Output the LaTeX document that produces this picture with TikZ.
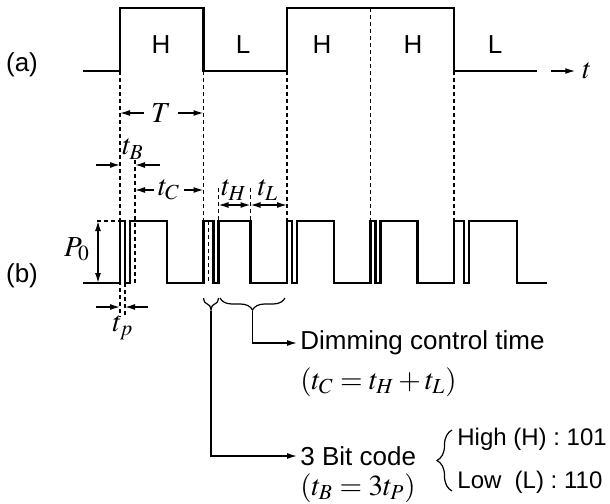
\documentclass[tikz,border=0pt]{standalone}
\usepackage{mathptmx}
\usepackage[no-math]{fontspec}
\setmainfont{Liberation Sans}
\usetikzlibrary{arrows.meta,decorations.pathreplacing}

\begin{document}
\begin{tikzpicture}[x=0.5pt,y=-0.5pt,>={Latex[length=5pt,width=3pt]},
 font=\fontsize{13}{16}\selectfont,
 wave/.style={line width=1.45pt},
 guide/.style={line width=0.6pt,dash pattern=on 2pt off 1.5pt},
 dim/.style={line width=0.7pt},
 mth/.style={font=\fontsize{14.5}{17}\selectfont},
 brc/.style={decorate,decoration={brace,amplitude=6pt},line width=0.6pt},
 txt/.style={anchor=west,inner sep=1.5pt}]
\useasboundingbox (0,0) rectangle (610,503);
\node (la) at (22,65) {(a)};
\node (lb) at (22,276) {(b)};
\node (s1) at (161,45) {H};
\node (s2) at (243,45) {L};
\node (s3) at (322,45) {H};
\node (s4) at (413,45) {H};
\node (s5) at (495,45) {L};
% waveform (a)
\draw[wave] (83,71) -- (120,71) -- (120,8) -- (203.5,8) -- (203.5,71) -- (287,71) -- (287,8) -- (454,8) -- (454,71) -- (537,71);
\node[mth] (tlab) at (587,71) {$t$};
\coordinate (tst) at (551,71);
\draw[->,dim] (tst) -- (tlab);
% waveform (b)
\draw[wave] (83,283) -- (120,283) -- (120,221) -- (125,221) -- (125,283) -- (130,283) -- (130,221) -- (167,221) -- (167,283) -- (203.5,283)
 -- (203.5,221) -- (213.5,221) -- (213.5,283) -- (218.5,283) -- (218.5,221) -- (250.5,221) -- (250.5,283) -- (287,283)
 -- (287,221) -- (292,221) -- (292,283) -- (297,283) -- (297,221) -- (334,221) -- (334,283) -- (370.5,283)
 -- (370.5,221) -- (375.5,221) -- (375.5,283) -- (380.5,283) -- (380.5,221) -- (417.5,221) -- (417.5,283) -- (454,283)
 -- (454,221) -- (464,221) -- (464,283) -- (469,283) -- (469,221) -- (517,221) -- (517,283) -- (547,283);
% guides
\draw[guide] (120,71) -- (120,317);
\draw[guide] (125,283) -- (125,317);
\draw[guide] (135,160) -- (135,283);
\draw[guide] (203.5,71) -- (203.5,221);
\draw[guide] (208.5,221) -- (208.5,283);
\draw[guide] (218.5,188) -- (218.5,221);
\draw[guide] (250.5,188) -- (250.5,221);
\draw[guide] (287,71) -- (287,221);
\draw[guide] (370.5,8) -- (370.5,221);
\draw[guide] (454,71) -- (454,221);
\draw[guide] (97,221) -- (120,221);
% T
\node[mth] (Tlab) at (161,113) {$T$};
\coordinate (Ta) at (120,113);
\coordinate (Tb) at (203.5,113);
\draw[->,dim] (Tlab) -- (Ta);
\draw[->,dim] (Tlab) -- (Tb);
% t_B
\node[mth] (tBlab) at (133,149) {$t_B$};
\coordinate (tB1) at (96,165);
\coordinate (tB2) at (120,165);
\coordinate (tB3) at (160,165);
\coordinate (tB4) at (135,165);
\draw[->,dim] (tB1) -- (tB2);
\draw[->,dim] (tB3) -- (tB4);
% t_C
\node[mth,inner sep=2pt] (tClab) at (169,190) {$t_C$};
\coordinate (tCa) at (135,190);
\coordinate (tCb) at (203.5,190);
\draw[->,dim] (tClab) -- (tCa);
\draw[->,dim] (tClab) -- (tCb);
% t_H, t_L
\node[mth] (tHlab) at (234,190) {$t_H$};
\node[mth] (tLlab) at (268,190) {$t_L$};
\coordinate (tHa) at (218.5,205);
\coordinate (tHb) at (250.5,205);
\coordinate (tLb) at (287,205);
\draw[<->,dim] (tHa) -- (tHb);
\draw[<->,dim] (tHb) -- (tLb);
% P_0
\node[mth,inner sep=1pt] (P0lab) at (77,249) {$P_0$};
\coordinate (Pa) at (98,221);
\coordinate (Pb) at (98,283);
\draw[<->,dim] (Pa) -- (Pb);
% t_p
\node[mth,inner sep=1pt] (tplab) at (123,328) {$t_p$};
\coordinate (tp1) at (96,307);
\coordinate (tp2) at (120,307);
\coordinate (tp3) at (148,307);
\coordinate (tp4) at (125,307);
\draw[->,dim] (tp1) -- (tp2);
\draw[->,dim] (tp3) -- (tp4);
% braces and notes
\draw[brc] (218.5,298) -- (203.5,298);
\draw[brc] (285,298) -- (220,298);
\coordinate (bittip) at (211,311);
\coordinate (dimtip) at (252.5,311);
\node[txt] (dimtxt) at (297,343) {Dimming control time};
\node[txt,mth] (dimeq) at (297,382) {$(t_C=t_H+t_L)$};
\node[txt] (codetxt) at (297,456) {3 Bit code};
\node[txt,mth] (codeeq) at (297,488) {$(t_B=3t_P)$};
\draw[->,dim] (dimtip) |- (dimtxt);
\draw[->,dim] (bittip) |- (codetxt);
\draw[brc,decoration={amplitude=7.5pt}] (452,491) -- (452,430);
\node[txt,font=\fontsize{12}{14}\selectfont] (hi) at (454,439) {High (H) : 101};
\node[txt,font=\fontsize{12}{14}\selectfont] (lo) at (454,482) {Low\ \ (L) : 110};
\end{tikzpicture}
\end{document}
